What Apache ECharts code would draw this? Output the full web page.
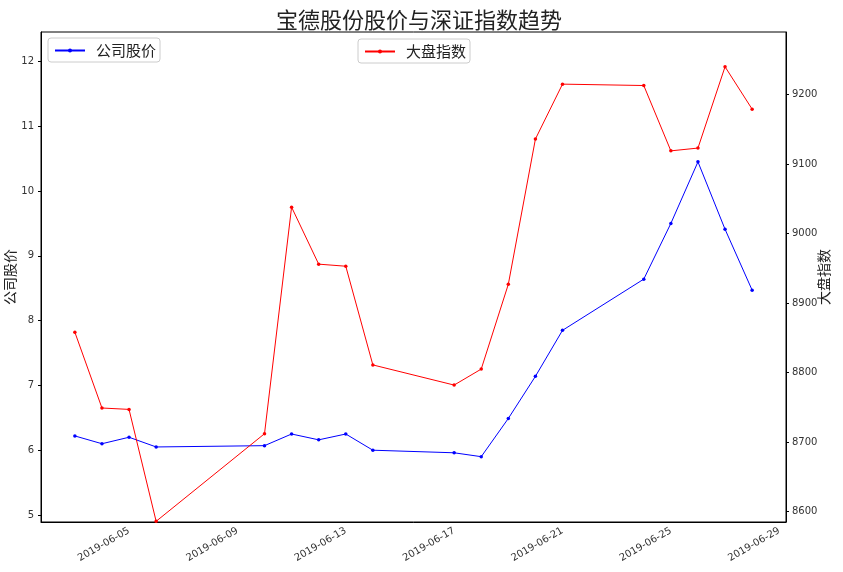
<!DOCTYPE html>
<html>
<head>
<meta charset="utf-8">
<script src="https://cdn.jsdelivr.net/npm/echarts@6/dist/echarts.min.js"></script>
<style>
html,body{margin:0;padding:0;background:#fff;}
#chart{width:843px;height:572px;}
</style>
</head>
<body>
<div id="chart"></div>
<script>
const titleText = '宝德股份股价与深证指数趋势';
const dates = ['2019-06-03','2019-06-04','2019-06-05','2019-06-06','2019-06-10','2019-06-11','2019-06-12','2019-06-13','2019-06-14','2019-06-17','2019-06-18','2019-06-19','2019-06-20','2019-06-21','2019-06-24','2019-06-25','2019-06-26','2019-06-27','2019-06-28'];
const stockPrice = [6.22, 6.10, 6.20, 6.05, 6.07, 6.25, 6.16, 6.25, 6.00, 5.96, 5.90, 6.49, 7.14, 7.85, 8.64, 9.50, 10.45, 9.41, 8.47];
const marketIndex = [8858, 8749, 8747, 8586, 8712, 9038, 8956, 8953, 8811, 8782, 8805, 8927, 9136, 9215, 9213, 9119, 9123, 9240, 9179];
const xTickLabels = ['2019-06-05','2019-06-09','2019-06-13','2019-06-17','2019-06-21','2019-06-25','2019-06-29'];
const leftTicks = [5, 6, 7, 8, 9, 10, 11, 12];
const rightTicks = [8600, 8700, 8800, 8900, 9000, 9100, 9200];
const seriesNames = ['公司股价', '大盘指数'];

const ts = s => Date.parse(s);
const xTickValues = xTickLabels.map(ts);
const labelFor = {};
xTickLabels.forEach((s, i) => { labelFor[xTickValues[i]] = s; });

const font = '"DejaVu Sans", "Noto Sans CJK SC", sans-serif';
const cjk = '"Noto Sans CJK SC", sans-serif';
const axisColor = '#000';

const chart = echarts.init(document.getElementById('chart'));
chart.setOption({
  animation: false,
  backgroundColor: '#fff',
  title: {
    text: titleText,
    left: 271,
    top: 4,
    textStyle: { fontFamily: cjk, fontSize: 22, fontWeight: 'normal', color: '#222' }
  },
  grid: {
    left: 41, top: 32, width: 745, height: 490,
    containLabel: false,
    outerBoundsMode: 'none',
    show: true, borderColor: '#000', borderWidth: 1, backgroundColor: 'transparent'
  },
  legend: [
    {
      data: [seriesNames[0]], left: 48, top: 38,
      borderColor: '#ccc', borderWidth: 1, borderRadius: 3,
      padding: [5, 4, 4, 6], itemWidth: 30, itemHeight: 5,
      textStyle: { fontFamily: cjk, fontSize: 15, color: '#222', padding: [0, 0, 0, 6] }
    },
    {
      data: [seriesNames[1]], left: 358, top: 39,
      borderColor: '#ccc', borderWidth: 1, borderRadius: 3,
      padding: [5, 4, 4, 6], itemWidth: 30, itemHeight: 5,
      textStyle: { fontFamily: cjk, fontSize: 15, color: '#222', padding: [0, 0, 0, 6] }
    }
  ],
  xAxis: {
    type: 'value',
    min: Date.UTC(2019, 5, 1, 18),
    max: Date.UTC(2019, 5, 29, 6),
    splitLine: { show: false },
    axisLine: { lineStyle: { color: axisColor } },
    axisTick: { show: false, customValues: xTickValues },
    axisLabel: {
      customValues: xTickValues,
      rotate: 30, margin: 8,
      fontFamily: font, fontSize: 10, color: '#333',
      formatter: v => labelFor[v] || ''
    }
  },
  yAxis: [
    {
      type: 'value', position: 'left',
      min: 4.892, max: 12.454,
      name: seriesNames[0], nameLocation: 'middle', nameRotate: 90, nameGap: 24,
      nameMoveOverlap: false,
      nameTextStyle: { fontFamily: cjk, fontSize: 14, color: '#222' },
      splitLine: { show: false },
      axisLine: { show: true, lineStyle: { color: axisColor } },
      axisTick: { show: true, customValues: leftTicks, length: 3, lineStyle: { color: axisColor } },
      axisLabel: { customValues: leftTicks, margin: 7, fontFamily: font, fontSize: 10, color: '#333', formatter: v => String(v) }
    },
    {
      type: 'value', position: 'right',
      min: 8585, max: 9290,
      name: seriesNames[1], nameLocation: 'middle', nameRotate: 90, nameGap: 31,
      nameMoveOverlap: false,
      nameTextStyle: { fontFamily: cjk, fontSize: 14, color: '#222' },
      splitLine: { show: false },
      axisLine: { show: true, lineStyle: { color: axisColor } },
      axisTick: { show: true, customValues: rightTicks, length: 3, lineStyle: { color: axisColor } },
      axisLabel: { customValues: rightTicks, margin: 6, fontFamily: font, fontSize: 10, color: '#333', formatter: v => String(v) }
    }
  ],
  series: [
    {
      name: seriesNames[0], type: 'line', yAxisIndex: 0,
      data: dates.map((d, i) => [ts(d), stockPrice[i]]),
      color: 'blue', lineStyle: { width: 1, color: 'blue' },
      symbol: 'circle', symbolSize: 3.5, showSymbol: true,
      itemStyle: { color: 'blue' }
    },
    {
      name: seriesNames[1], type: 'line', yAxisIndex: 1,
      data: dates.map((d, i) => [ts(d), marketIndex[i]]),
      color: 'red', lineStyle: { width: 1, color: 'red' },
      symbol: 'circle', symbolSize: 3.5, showSymbol: true,
      itemStyle: { color: 'red' }
    }
  ]
});
</script>
</body>
</html>
